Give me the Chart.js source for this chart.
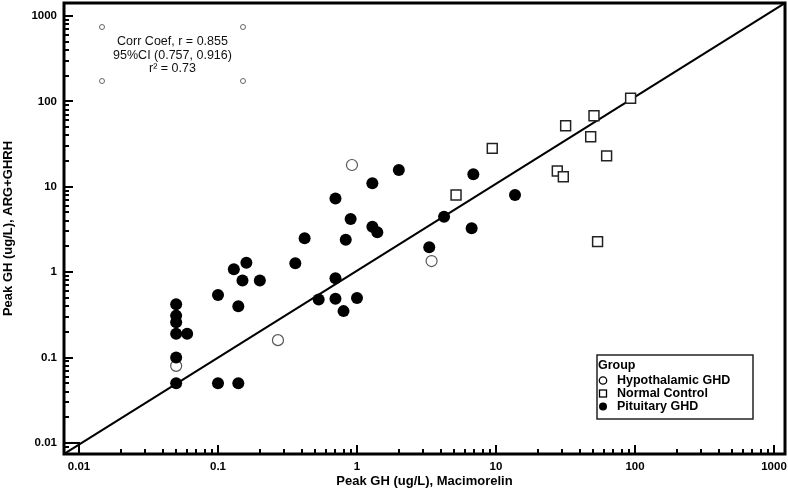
<!DOCTYPE html>
<html><head><meta charset="utf-8">
<script src="https://cdn.jsdelivr.net/npm/chart.js@4/dist/chart.umd.min.js"></script>
<style>html,body{margin:0;padding:0;background:#fff}#wrap{width:788px;height:493px}</style>
</head><body><div id="wrap"><canvas id="c" width="788" height="493"></canvas></div>
<script>
// ---- data ----
const hypoX = [0.05, 0.27, 0.92, 3.44];
const hypoY = [0.08, 0.16, 18.0, 1.35];
const normX = [5.16, 9.4, 27.6, 30.5, 31.7, 48, 50.7, 53.8, 62.5, 93];
const normY = [8.0, 28.2, 15.3, 13.1, 51.9, 38.6, 68, 2.28, 23, 108.7];
const pitX = [0.05, 0.05, 0.05, 0.05, 0.06, 0.05, 0.05, 0.10, 0.14, 0.10, 0.14, 0.13, 0.16, 0.15, 0.20, 0.36,
              0.42, 0.53, 0.70, 0.80, 1.0, 0.70, 0.83, 0.70, 0.90, 1.29, 1.40, 1.29, 2.0,
              3.31, 4.23, 6.68, 6.87, 13.7];
const pitY = [0.42, 0.31, 0.26, 0.19, 0.19, 0.10, 0.05, 0.05, 0.05, 0.54, 0.40, 1.08, 1.29, 0.80, 0.80, 1.27,
              2.5, 0.48, 0.49, 0.35, 0.50, 0.85, 2.4, 7.3, 4.2, 3.41, 2.93, 11.0, 15.7,
              1.96, 4.47, 3.27, 14.0, 8.0];
const axisX = [0.0078, 1200];
const axisY = [0.00743, 1419];
const lineX = [0.0078, 1200];
const lineY = [0.00743, 1419];
const tickVals = [0.01, 0.1, 1, 10, 100, 1000];
const groupNames = ['Hypothalamic GHD', 'Normal Control', 'Pituitary GHD'];
const statLines = ['Corr Coef, r = 0.855', '95%CI (0.757, 0.916)', 'r\u00B2 = 0.73'];

const pts = (xs, ys) => xs.map((x, i) => ({x, y: ys[i]}));
const FONT = '"Liberation Sans", Arial, sans-serif';

const framePlugin = {
  id: 'frame',
  afterDatasetsDraw(chart) {
    const {ctx, chartArea: a, scales: {x, y}} = chart;
    ctx.save();
    ctx.strokeStyle = '#000';
    ctx.lineWidth = 2;
    for (let d = -3; d <= 3; d++) {
      for (let k = 1; k < 10; k++) {
        const v = k * Math.pow(10, d);
        const len = k === 1 ? 9 : 5;
        if (v >= x.min * 1.2 && v < x.max) {
          const px = Math.round(x.getPixelForValue(v));
          ctx.beginPath(); ctx.moveTo(px, a.bottom); ctx.lineTo(px, a.bottom - len); ctx.stroke();
        }
        if (v >= y.min * 1.2 && v < y.max) {
          const py = Math.round(y.getPixelForValue(v));
          ctx.beginPath(); ctx.moveTo(a.left, py); ctx.lineTo(a.left + len, py); ctx.stroke();
        }
      }
    }
    // corner box
    const cx = x.getPixelForValue(0.01), cy = y.getPixelForValue(0.01);
    ctx.lineWidth = 2;
    ctx.strokeRect(a.left, cy, cx - a.left, a.bottom - cy);
    // frame
    ctx.lineWidth = 3;
    ctx.strokeRect(a.left, a.top, a.right - a.left, a.bottom - a.top);

    // annotation
    const ax0 = a.left + 38, ax1 = a.left + 179, ay0 = a.top + 24, ay1 = a.top + 78;
    ctx.strokeStyle = '#666'; ctx.lineWidth = 1;
    [[ax0, ay0], [ax1, ay0], [ax0, ay1], [ax1, ay1]].forEach(([px, py]) => {
      ctx.beginPath(); ctx.arc(px, py, 2.5, 0, Math.PI * 2); ctx.stroke();
    });
    ctx.fillStyle = '#111';
    ctx.font = '12.5px ' + FONT;
    ctx.textAlign = 'center'; ctx.textBaseline = 'middle';
    const mid = (ax0 + ax1) / 2;
    statLines.forEach((t, i) => ctx.fillText(t, mid, a.top + 39 + i * 13.3));

    // legend
    const lx = 597, ly = 355, lw = 156, lh = 64;
    ctx.strokeStyle = '#222'; ctx.lineWidth = 1.5;
    ctx.strokeRect(lx, ly, lw, lh);
    ctx.fillStyle = '#000';
    ctx.textAlign = 'left';
    ctx.font = 'bold 12.5px ' + FONT;
    ctx.fillText('Group', lx + 1, ly + 11);
    const rows = [ly + 25.5, ly + 38.5, ly + 51.5];
    ctx.lineWidth = 1.3; ctx.strokeStyle = '#000';
    ctx.beginPath(); ctx.arc(lx + 6, rows[0], 3.7, 0, Math.PI * 2); ctx.stroke();
    ctx.strokeRect(lx + 2.5, rows[1] - 3.5, 7, 7);
    ctx.beginPath(); ctx.arc(lx + 6, rows[2], 4, 0, Math.PI * 2); ctx.fill();
    groupNames.forEach((t, i) => ctx.fillText(t, lx + 20, rows[i]));
    ctx.restore();
  }
};

new Chart(document.getElementById('c'), {
  type: 'scatter',
  data: {
    datasets: [
      { label: groupNames[2], data: pts(pitX, pitY), pointStyle: 'circle', pointRadius: 6,
        backgroundColor: '#000', borderColor: '#000', borderWidth: 0 },
      { label: groupNames[1], data: pts(normX, normY), pointStyle: 'rect', pointRadius: 7,
        backgroundColor: '#fff', borderColor: '#222', borderWidth: 1.5 },
      { label: groupNames[0], data: pts(hypoX, hypoY), pointStyle: 'circle', pointRadius: 5.5,
        backgroundColor: '#fff', borderColor: '#555', borderWidth: 1.2 },
      { label: 'fit', data: pts(lineX, lineY), showLine: true, pointRadius: 0,
        borderColor: '#000', borderWidth: 2, fill: false }
    ]
  },
  options: {
    responsive: false, animation: false, devicePixelRatio: 1,
    layout: { autoPadding: false, padding: { top: 3, right: 3, left: 0, bottom: 0 } },
    plugins: { legend: { display: false }, tooltip: { enabled: false } },
    scales: {
      x: {
        type: 'logarithmic', min: axisX[0], max: axisX[1], bounds: 'data',
        afterBuildTicks: s => { s.ticks = tickVals.map(v => ({value: v})); },
        afterFit: s => { s.height = 39; s.paddingLeft = 0; s.paddingRight = 0; },
        grid: { display: false, drawTicks: false },
        border: { display: false },
        ticks: { color: '#000', font: { family: FONT, size: 11.5, weight: 'bold' }, padding: 6,
                 maxRotation: 0, autoSkip: false, callback: v => String(v) },
        title: { display: true, text: 'Peak GH (ug/L), Macimorelin', color: '#000',
                 font: { family: FONT, size: 13, weight: 'bold' }, padding: { top: 0, bottom: 4 } }
      },
      y: {
        type: 'logarithmic', min: axisY[0], max: axisY[1], bounds: 'data',
        afterBuildTicks: s => { s.ticks = tickVals.map(v => ({value: v})); },
        afterFit: s => { s.width = 64; s.paddingTop = 0; s.paddingBottom = 0; },
        grid: { display: false, drawTicks: false },
        border: { display: false },
        ticks: { color: '#000', font: { family: FONT, size: 11.5, weight: 'bold' }, padding: 7,
                 autoSkip: false, callback: v => String(v) },
        title: { display: true, text: 'Peak GH (ug/L), ARG+GHRH', color: '#000',
                 font: { family: FONT, size: 13, weight: 'bold' }, padding: { top: 1, bottom: 0 } }
      }
    }
  },
  plugins: [framePlugin]
});
</script></body></html>
